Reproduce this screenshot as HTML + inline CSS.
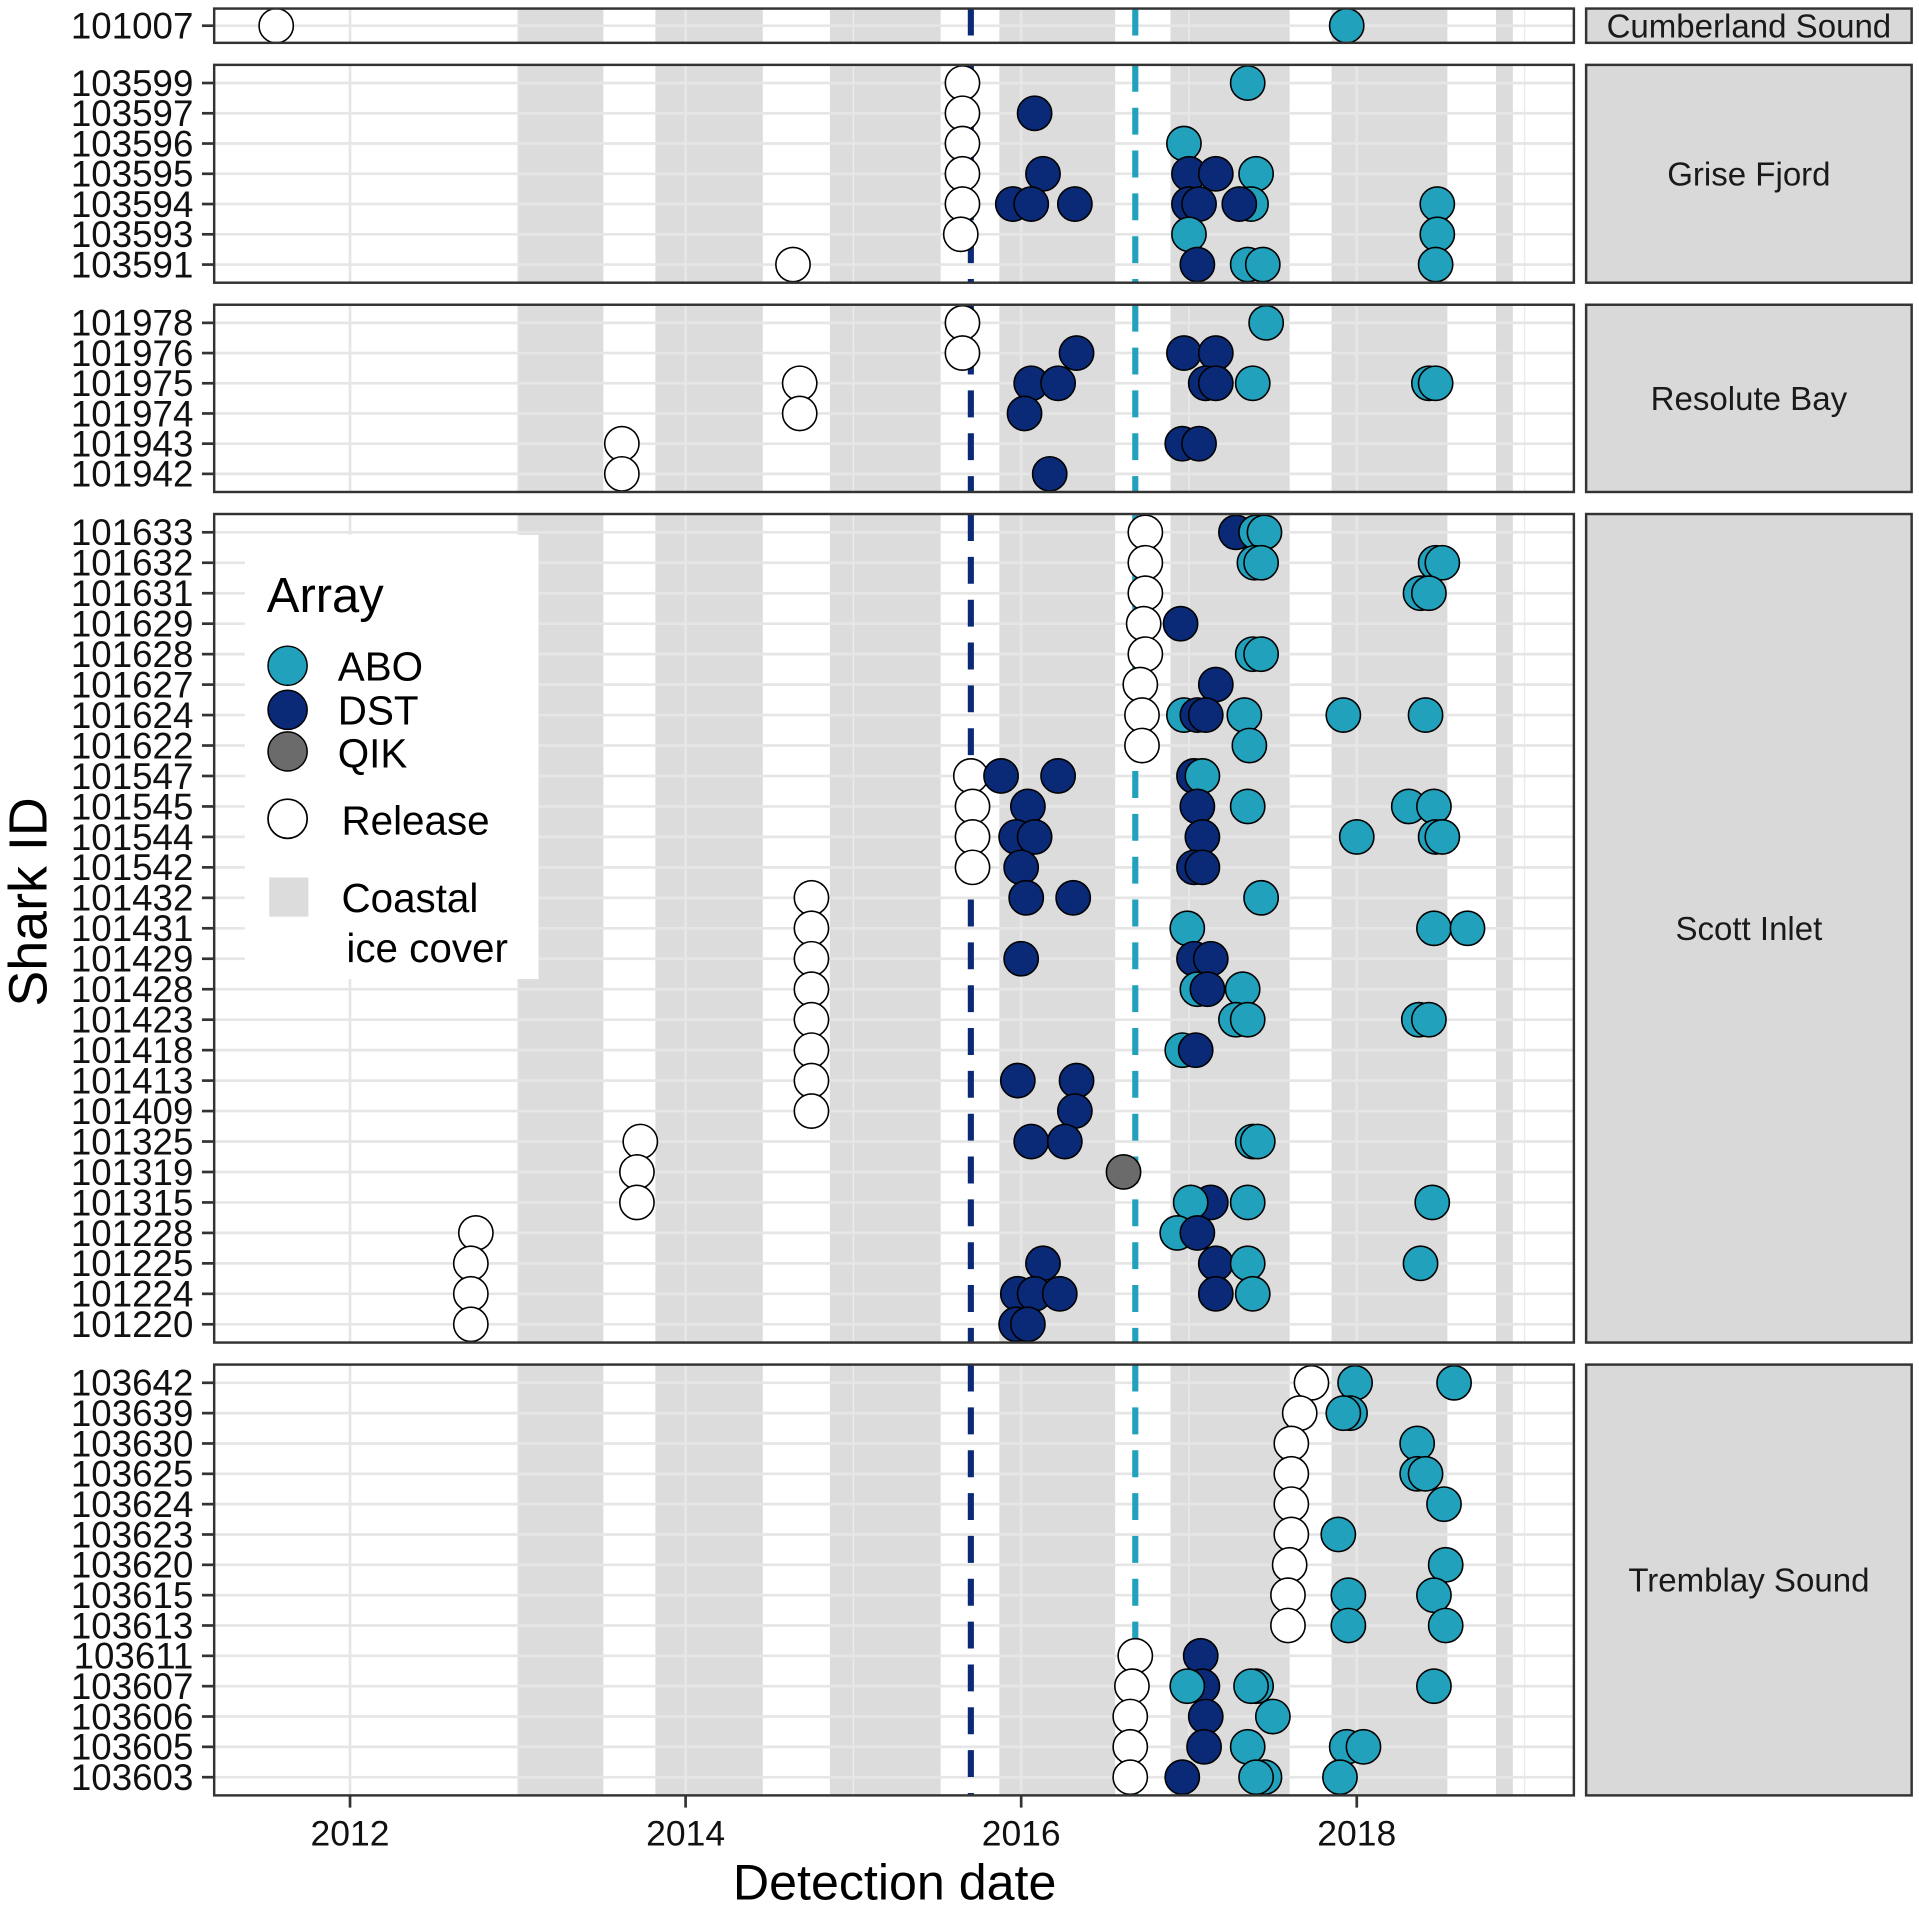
<!DOCTYPE html>
<html><head><meta charset="utf-8"><style>
html,body{margin:0;padding:0;background:#fff;}
svg{display:block;font-family:"Liberation Sans",Arial,sans-serif;}
</style></head><body>
<svg id="chart" width="1919" height="1919" viewBox="0 0 1568 1568" xmlns="http://www.w3.org/2000/svg"></svg>
<script>
// ---- data ----
const panelNames = ["Cumberland Sound","Grise Fjord","Resolute Bay","Scott Inlet","Tremblay Sound"];
const panelIds = [
 ["101007"],
 ["103599","103597","103596","103595","103594","103593","103591"],
 ["101978","101976","101975","101974","101943","101942"],
 ["101633","101632","101631","101629","101628","101627","101624","101622","101547","101545","101544","101542","101432","101431","101429","101428","101423","101418","101413","101409","101325","101319","101315","101228","101225","101224","101220"],
 ["103642","103639","103630","103625","103624","103623","103620","103615","103613","103611","103607","103606","103605","103603"]
];
const xTickYears = [2012,2014,2016,2018];
const xMinorYears = [2011,2013,2015,2017,2019];
const iceStart = [2013.0,2013.82,2014.86,2015.87,2016.89,2017.85,2018.83];
const iceEnd   = [2013.51,2014.46,2015.52,2016.56,2017.60,2018.54,2018.93];
const dstTagDate = 2015.70;
const aboTagDate = 2016.68;
// detections: [shark id, decimal year, type] R=release A=ABO D=DST Q=QIK
const cumberlandPts = [["101007",2011.56,"R"],["101007",2017.94,"A"]];
const griseReleases = [["103599",2015.65,"R"],["103597",2015.65,"R"],["103596",2015.65,"R"],["103595",2015.65,"R"],["103594",2015.65,"R"],["103593",2015.64,"R"],["103591",2014.64,"R"]];
const grisePts = [["103599",2017.35,"A"],["103597",2016.08,"D"],["103596",2016.97,"A"],
 ["103595",2016.13,"D"],["103595",2017.00,"D"],["103595",2017.16,"D"],["103595",2017.40,"A"],
 ["103594",2015.95,"D"],["103594",2016.06,"D"],["103594",2016.32,"D"],["103594",2017.00,"D"],["103594",2017.06,"D"],["103594",2017.37,"A"],["103594",2017.30,"D"],["103594",2018.48,"A"],
 ["103593",2017.00,"A"],["103593",2018.48,"A"],
 ["103591",2017.05,"D"],["103591",2017.35,"A"],["103591",2017.44,"A"],["103591",2018.47,"A"]];
const resoluteReleases = [["101978",2015.65,"R"],["101976",2015.65,"R"],["101975",2014.68,"R"],["101974",2014.68,"R"],["101943",2013.62,"R"],["101942",2013.62,"R"]];
const resolutePts = [["101978",2017.46,"A"],
 ["101976",2016.33,"D"],["101976",2016.97,"D"],["101976",2017.16,"D"],
 ["101975",2016.06,"D"],["101975",2016.22,"D"],["101975",2017.38,"A"],["101975",2017.10,"D"],["101975",2017.16,"D"],["101975",2018.43,"A"],["101975",2018.47,"A"],
 ["101974",2016.02,"D"],["101943",2016.96,"D"],["101943",2017.06,"D"],["101942",2016.17,"D"]];
const scottReleases = [["101633",2016.74,"R"],["101632",2016.74,"R"],["101631",2016.74,"R"],["101629",2016.73,"R"],["101628",2016.74,"R"],["101627",2016.71,"R"],["101624",2016.72,"R"],["101622",2016.72,"R"],
 ["101547",2015.70,"R"],["101545",2015.71,"R"],["101544",2015.71,"R"],["101542",2015.71,"R"],
 ["101432",2014.75,"R"],["101431",2014.75,"R"],["101429",2014.75,"R"],["101428",2014.75,"R"],["101423",2014.75,"R"],["101418",2014.75,"R"],["101413",2014.75,"R"],["101409",2014.75,"R"],
 ["101325",2013.73,"R"],["101319",2013.71,"R"],["101315",2013.71,"R"],
 ["101228",2012.75,"R"],["101225",2012.72,"R"],["101224",2012.72,"R"],["101220",2012.72,"R"]];
const scottPts = [
 ["101633",2017.28,"D"],["101633",2017.40,"A"],["101633",2017.45,"A"],
 ["101632",2017.39,"A"],["101632",2017.43,"A"],["101632",2018.47,"A"],["101632",2018.51,"A"],
 ["101631",2018.38,"A"],["101631",2018.43,"A"],
 ["101629",2016.95,"D"],
 ["101628",2017.38,"A"],["101628",2017.43,"A"],
 ["101627",2017.16,"D"],
 ["101624",2016.97,"A"],["101624",2017.05,"D"],["101624",2017.10,"D"],["101624",2017.33,"A"],["101624",2017.92,"A"],["101624",2018.41,"A"],
 ["101622",2017.36,"A"],
 ["101547",2015.88,"D"],["101547",2016.22,"D"],["101547",2017.03,"D"],["101547",2017.08,"A"],
 ["101545",2016.04,"D"],["101545",2017.05,"D"],["101545",2017.35,"A"],["101545",2018.31,"A"],["101545",2018.46,"A"],
 ["101544",2015.97,"D"],["101544",2016.08,"D"],["101544",2017.08,"D"],["101544",2018.00,"A"],["101544",2018.47,"A"],["101544",2018.51,"A"],
 ["101542",2016.00,"D"],["101542",2017.03,"D"],["101542",2017.08,"D"],
 ["101432",2016.03,"D"],["101432",2016.31,"D"],["101432",2017.43,"A"],
 ["101431",2016.99,"A"],["101431",2018.46,"A"],["101431",2018.66,"A"],
 ["101429",2016.00,"D"],["101429",2017.03,"D"],["101429",2017.13,"D"],
 ["101428",2017.05,"A"],["101428",2017.11,"D"],["101428",2017.32,"A"],
 ["101423",2017.28,"A"],["101423",2017.35,"A"],["101423",2018.37,"A"],["101423",2018.43,"A"],
 ["101418",2016.96,"A"],["101418",2017.04,"D"],
 ["101413",2015.98,"D"],["101413",2016.33,"D"],
 ["101409",2016.32,"D"],
 ["101325",2016.06,"D"],["101325",2016.26,"D"],["101325",2017.38,"A"],["101325",2017.41,"A"],
 ["101319",2016.61,"Q"],
 ["101315",2017.13,"D"],["101315",2017.01,"A"],["101315",2017.35,"A"],["101315",2018.45,"A"],
 ["101228",2016.93,"A"],["101228",2017.05,"D"],
 ["101225",2016.13,"D"],["101225",2017.16,"D"],["101225",2017.35,"A"],["101225",2018.38,"A"],
 ["101224",2015.98,"D"],["101224",2016.08,"D"],["101224",2016.23,"D"],["101224",2017.16,"D"],["101224",2017.38,"A"],
 ["101220",2015.97,"D"],["101220",2016.04,"D"]];
const tremblayReleases = [["103642",2017.73,"R"],["103639",2017.66,"R"],["103630",2017.61,"R"],["103625",2017.61,"R"],["103624",2017.61,"R"],["103623",2017.61,"R"],["103620",2017.60,"R"],["103615",2017.59,"R"],["103613",2017.59,"R"],
 ["103611",2016.68,"R"],["103607",2016.66,"R"],["103606",2016.65,"R"],["103605",2016.65,"R"],["103603",2016.65,"R"]];
const tremblayPts = [
 ["103642",2017.99,"A"],["103642",2018.58,"A"],
 ["103639",2017.96,"A"],["103639",2017.92,"A"],
 ["103630",2018.36,"A"],
 ["103625",2018.36,"A"],["103625",2018.41,"A"],
 ["103624",2018.52,"A"],["103623",2017.89,"A"],["103620",2018.53,"A"],
 ["103615",2017.95,"A"],["103615",2018.46,"A"],
 ["103613",2017.95,"A"],["103613",2018.53,"A"],
 ["103611",2017.07,"D"],
 ["103607",2017.08,"D"],["103607",2016.99,"A"],["103607",2017.40,"A"],["103607",2017.37,"A"],["103607",2018.46,"A"],
 ["103606",2017.10,"D"],["103606",2017.50,"A"],
 ["103605",2017.09,"D"],["103605",2017.35,"A"],["103605",2017.94,"A"],["103605",2018.04,"A"],
 ["103603",2016.96,"D"],["103603",2017.45,"A"],["103603",2017.40,"A"],["103603",2017.90,"A"]];
const panelPoints = [cumberlandPts, griseReleases.concat(grisePts), resoluteReleases.concat(resolutePts), scottReleases.concat(scottPts), tremblayReleases.concat(tremblayPts)];

// ---- layout ----
const panelTop = [7,53,249,420,1115];
const panelBot = [35,231,402,1097,1467];
const PL = 175, PR = 1286, SL = 1296, SR = 1562;
const X0 = 2012, XPX = 286, PXY = 137.1;
function xScale(y){ return XPX + (y - X0) * PXY; }
const fill = {A:"#22a1bc", D:"#0a2a78", Q:"#6b6b6b", R:"#ffffff"};
const NS = "http://www.w3.org/2000/svg";
const svg = document.getElementById("chart");
function el(tag, attrs, parent){ const e = document.createElementNS(NS, tag); for (const k in attrs) e.setAttribute(k, attrs[k]); (parent||svg).appendChild(e); return e; }

panelNames.forEach((name, p) => {
  const top = panelTop[p], bot = panelBot[p], ids = panelIds[p];
  const n = ids.length;
  const yStep = n > 1 ? (bot - top) / (n - 1 + 1.2) : 0;
  function yScale(id){ const i = ids.indexOf(id); return n > 1 ? top + 0.6*yStep + i*yStep : (top+bot)/2; }
  const g = el("g", {});
  
  
  const clip = el("clipPath", {id:"clip"+p}, g);
  el("rect", {x:PL, y:top, width:PR-PL, height:bot-top}, clip);
  const inner = el("g", {"clip-path":"url(#clip"+p+")"}, g);
  iceStart.forEach((s, i) => {
    const r = el("rect", {x:xScale(s), y:top, width:xScale(iceEnd[i])-xScale(s), height:bot-top, fill:"#dcdcdc"}, inner);
    
    
  });
  xMinorYears.forEach(yr => el("line", {x1:xScale(yr), x2:xScale(yr), y1:top, y2:bot, stroke:"#ebebeb", "stroke-width":1.2}, inner));
  xTickYears.forEach(yr => el("line", {x1:xScale(yr), x2:xScale(yr), y1:top, y2:bot, stroke:"#e6e6e6", "stroke-width":2.2}, inner));
  ids.forEach(id => {
    const y = yScale(id);
    el("line", {x1:PL, x2:PR, y1:y, y2:y, stroke:"#e6e6e6", "stroke-width":2.2}, inner);
    const t = el("text", {x:158, y:y+10.5, "font-size":30, "text-anchor":"end", fill:"#111"}, g);
    t.textContent = id;
    
    
    el("line", {x1:165, x2:175, y1:y, y2:y, stroke:"#333", "stroke-width":2.2}, g);
  });
  const l1 = el("line", {x1:xScale(dstTagDate), x2:xScale(dstTagDate), y1:top, y2:bot, stroke:"#0a2a78", "stroke-width":5, "stroke-dasharray":"22 13"}, inner);
  
  
  const l2 = el("line", {x1:xScale(aboTagDate), x2:xScale(aboTagDate), y1:top, y2:bot, stroke:"#22a1bc", "stroke-width":5, "stroke-dasharray":"22 13"}, inner);
  
  
  panelPoints[p].forEach(pt => {
    const c = el("circle", {cx:xScale(pt[1]), cy:yScale(pt[0]), r:14, fill:fill[pt[2]], stroke:"#000", "stroke-width":1.3}, g);
    
    
  });
  el("rect", {x:PL, y:top, width:PR-PL, height:bot-top, fill:"none", stroke:"#333", "stroke-width":2}, g);
  const s = el("rect", {x:SL, y:top, width:SR-SL, height:bot-top, fill:"#d9d9d9", stroke:"#333", "stroke-width":2}, g);
  
  
  const st = el("text", {x:(SL+SR)/2, y:(top+bot)/2+9.5, "font-size":27, "text-anchor":"middle", fill:"#1a1a1a"}, g);
  st.textContent = name;
  
  
});

xTickYears.forEach(yr => {
  el("line", {x1:xScale(yr), x2:xScale(yr), y1:1467, y2:1477, stroke:"#333", "stroke-width":2.2});
  const t = el("text", {x:xScale(yr), y:1508, "font-size":29, "text-anchor":"middle", fill:"#111"});
  t.textContent = yr;
  
  
});
</script>
<svg style="position:absolute;left:0;top:0" width="1919" height="1919" viewBox="0 0 1568 1568" xmlns="http://www.w3.org/2000/svg" font-family="Liberation Sans, Arial, sans-serif">
  <text x="731" y="1552" font-size="41" text-anchor="middle" fill="#000">Detection date</text>
  <text transform="translate(38,737) rotate(-90)" font-size="44" text-anchor="middle" fill="#000">Shark ID</text>
  <g>
    <rect x="200" y="437" width="240" height="363" fill="#fff"/>
    <text x="218" y="500" font-size="40" fill="#000">Array</text>
    <circle cx="235" cy="544" r="16" fill="#22a1bc" stroke="#000" stroke-width="1.2"/>
    <text x="276" y="556" font-size="33" fill="#000">ABO</text>
    <circle cx="235" cy="580" r="16" fill="#0a2a78" stroke="#000" stroke-width="1.2"/>
    <text x="276" y="592" font-size="33" fill="#000">DST</text>
    <circle cx="235" cy="614" r="16" fill="#6b6b6b" stroke="#000" stroke-width="1.2"/>
    <text x="276" y="627" font-size="33" fill="#000">QIK</text>
    <circle cx="235" cy="669" r="16" fill="#fff" stroke="#000" stroke-width="1.4"/>
    <text x="279" y="682" font-size="33" fill="#000">Release</text>
    <rect x="220" y="717" width="32" height="32" fill="#dcdcdc"/>
    <text x="279" y="745" font-size="33" fill="#000">Coastal</text>
    <text x="283" y="786" font-size="33" fill="#000">ice cover</text>
  </g>
</svg>
</body></html>
